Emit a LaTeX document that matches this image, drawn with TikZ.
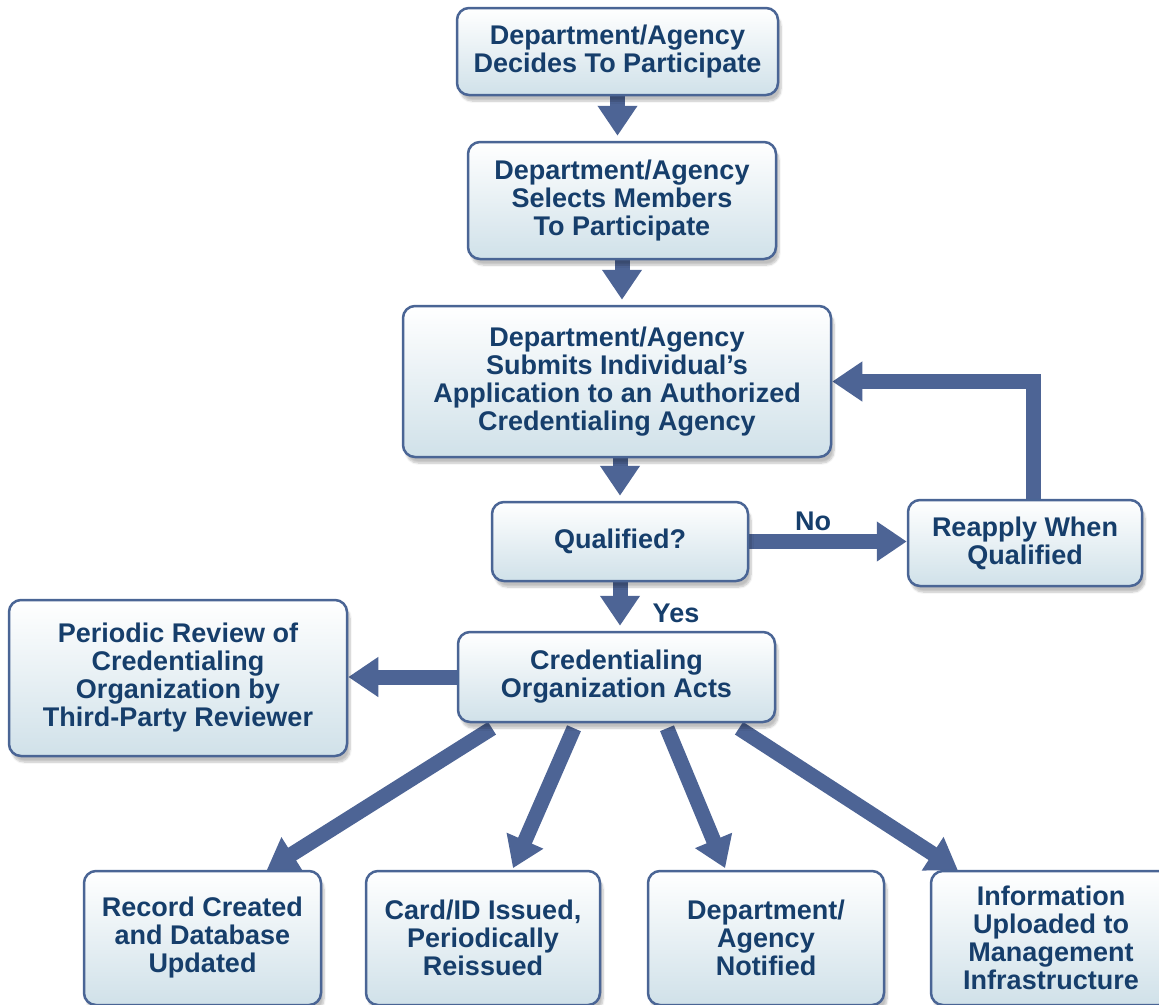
\documentclass[tikz,border=0pt]{standalone}
\usepackage{fontspec}
\setmainfont{Liberation Sans}
\usetikzlibrary{shapes, positioning, arrows.meta, shadows, shadows.blur, backgrounds, calc}
\definecolor{flowBlue}{HTML}{4D6495}
\definecolor{flowEdge}{HTML}{4A6595}
\definecolor{flowText}{HTML}{163E6B}
\definecolor{flowFill}{HTML}{D0E1E9}
\newcommand{\boxFont}{\fontsize{27}{28}\selectfont\bfseries}
\newcommand{\tipGap}{5pt}
\tikzstyle{flowBox}=[draw=flowEdge, line width=2.5pt, rounded corners=12pt, top color=white, bottom color=flowFill, text=flowText, font=\boxFont, align=center, inner sep=0pt, blur shadow={shadow xshift=3pt, shadow yshift=-6pt, shadow blur steps=6, shadow opacity=25}]
\tikzstyle{arrow}=[draw=flowBlue, line width=15pt, -{Triangle[length=30pt, width=38pt]}, shorten >=\tipGap]
\tikzstyle{branchLabel}=[text=flowText, font=\boxFont]
\tikzstyle{leafBox}=[flowBox, minimum height=134pt]

\begin{document}
\begin{tikzpicture}[x=1pt, y=-1pt]
    \useasboundingbox (0,0) rectangle (1159,1004);
    \clip (0,0) rectangle (1159,1004);
    % main column
    \node[flowBox, minimum width=321pt, minimum height=87pt] (decide) at (617.5,51.5) {Department/Agency\\Decides To Participate};
    \node[flowBox, minimum width=308pt, minimum height=117pt] (select) at (622,200.5) {Department/Agency\\Selects Members\\To Participate};
    \node[flowBox, minimum width=428pt, minimum height=151pt] (submit) at (617,381.5) {Department/Agency\\Submits Individual’s\\Application to an Authorized\\Credentialing Agency};
    \node[flowBox, minimum width=256pt, minimum height=79pt] (qualified) at (620,541.5) {Qualified?};
    \node[flowBox, minimum width=234pt, minimum height=86pt] (reapply) at (1025,543) {Reapply When\\Qualified};
    \node[flowBox, minimum width=317pt, minimum height=90pt] (acts) at (616.5,677) {Credentialing\\Organization Acts};
    \node[flowBox, minimum width=338pt, minimum height=156pt] (review) at (178,678) {Periodic Review of\\Credentialing\\Organization by\\Third-Party Reviewer};
    % outcomes
    \node[leafBox, minimum width=237pt] (record) at (202.5,938) {Record Created\\and Database\\Updated};
    \node[leafBox, minimum width=234pt] (card) at (483,938) {Card/ID Issued,\\Periodically\\Reissued};
    \node[leafBox, minimum width=236pt] (notify) at (766,938) {Department/\\Agency\\Notified};
    \node[leafBox, minimum width=240pt] (upload) at (1051,938) {Information\\Uploaded to\\Management\\Infrastructure};
    \node[branchLabel] (noLabel) at (813,521) {No};
    \node[branchLabel] (yesLabel) at (676,613) {Yes};
    \begin{scope}[on background layer]
      \draw[arrow] (decide.south) -- (decide.south |- select.north);
      \draw[arrow] (select.south) -- (select.south |- submit.north);
      \draw[arrow] ([xshift=3pt]submit.south) -- ([xshift=3pt]submit.south |- qualified.north);
      \draw[arrow] (qualified.south) -- (qualified.south |- acts.north);
      \draw[arrow, shorten >=0pt] (qualified.east) -- (qualified.east -| reapply.west);
      \draw[arrow, shorten >=0pt] ([xshift=8pt]reapply.north) |- (submit.east);
      \draw[arrow, shorten >=0pt] (acts.west) -- (review.east |- acts.west);
      \draw[arrow] ([xshift=-124.5pt, yshift=-5pt]acts.south) -- ([xshift=60pt, yshift=-3pt]record.north);
      \draw[arrow] ([xshift=-42.5pt, yshift=-5pt]acts.south) -- ([xshift=28pt, yshift=-3pt]card.north);
      \draw[arrow] ([xshift=50.5pt, yshift=-5pt]acts.south) -- ([xshift=-39pt, yshift=-3pt]notify.north);
      \draw[arrow] ([xshift=122.5pt, yshift=-5pt]acts.south) -- ([xshift=-89pt, yshift=-3pt]upload.north);
    \end{scope}
\end{tikzpicture}
\end{document}
